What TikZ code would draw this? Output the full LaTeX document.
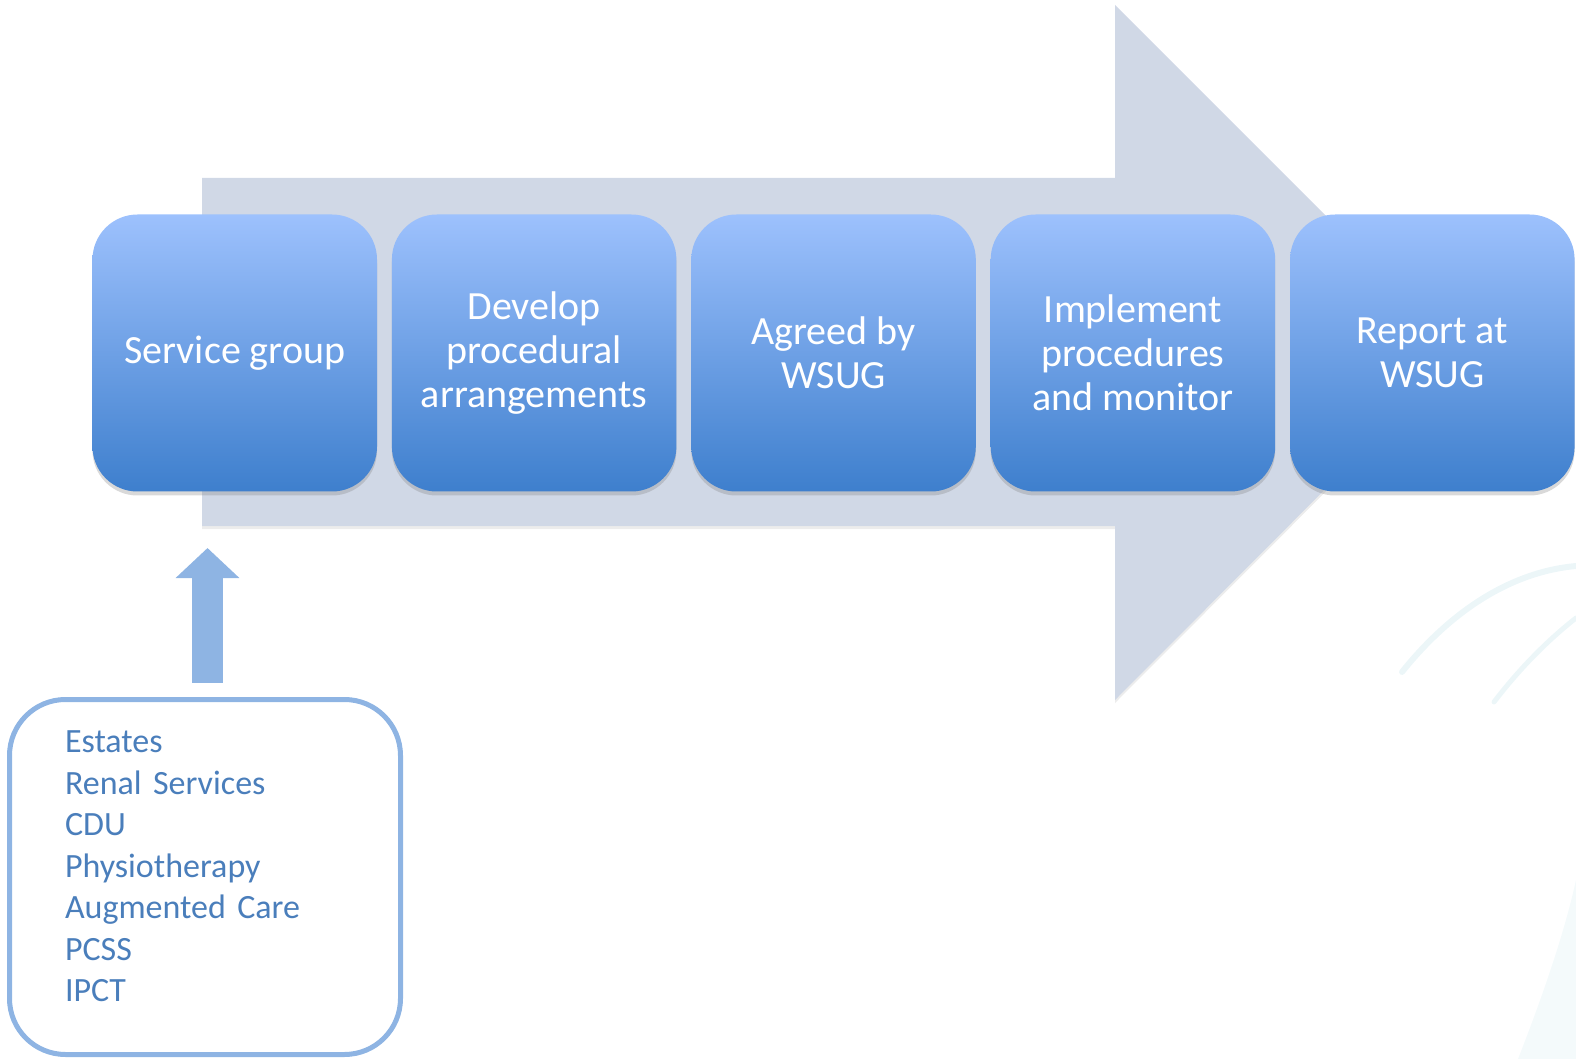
\documentclass[tikz,border=0pt]{standalone}
\usepackage{fontspec}
\setmainfont{Carlito}
\usetikzlibrary{arrows.meta,shadows}
\definecolor{grigio}{RGB}{208,216,230}
\definecolor{celeste}{RGB}{157,193,253}
\definecolor{azzurro}{RGB}{121,164,234}
\definecolor{blu}{RGB}{62,127,205}
\definecolor{bordo}{RGB}{142,180,227}
\definecolor{testo}{RGB}{74,126,187}
\definecolor{traccia}{RGB}{224,240,244}
\tikzstyle{flusso}=[
    fase/.style={rectangle, rounded corners=22.5pt, minimum width=142.25pt,
        minimum height=138.5pt, top color=celeste, middle color=azzurro,
        bottom color=blu, text=white, align=center,
        font={\fontsize{20}{22}\selectfont},
        drop shadow={shadow xshift=0pt, shadow yshift=-2pt, opacity=.3}},
    freccia/.style={fill=grigio,
        drop shadow={shadow xshift=0pt, shadow yshift=-1.5pt, opacity=.15}},
    elenco/.style={rectangle, rounded corners=28pt, draw=bordo, line width=2.5pt,
        minimum width=195.5pt, minimum height=177.5pt, text=testo,
        align=left, text width=140pt, text height=0.5pt,
        font={\fontsize{17}{20.75}\selectfont}},
    su/.style={draw=bordo, line width=15.5pt, -{Triangle[width=31pt,length=15pt]}},
    sfondo/.style={traccia, line cap=round, opacity=.6},
]

\begin{document}
\begin{tikzpicture}[flusso, x=0.5pt, y=-0.5pt]
    \useasboundingbox (0,0) rectangle (1576,1059);

    % faint background swirl
    \draw[sfondo, line width=3pt] (1402,672) .. controls (1450,612) and (1510,572) .. (1576,566);
    \draw[sfondo, line width=2.5pt] (1494,702) .. controls (1520,668) and (1548,640) .. (1576,618);
    \fill[traccia, opacity=.35] (1518,1059) .. controls (1545,990) and (1565,930) .. (1576,880) -- (1576,1059) -- cycle;

    % big arrow
    \fill[freccia] (202,178) -- (1115,178) -- (1115,5) -- (1462,352)
        -- (1115,700) -- (1115,526) -- (202,526) -- cycle;

    % stages
    \foreach \n/\t [count=\i from 0] in {servizio/{Service group},
        sviluppo/{Develop\\procedural\\arrangements},
        accordo/{Agreed by\\WSUG},
        attuazione/{Implement\\procedures\\and monitor},
        rapporto/{Report at\\WSUG}}
        \node[fase] (\n) at (234.75+\i*299.4, 353) {\t};

    % groups
    \node[elenco] (gruppi) at (205,877)
        {Estates\\Renal Services\\CDU\\Physiotherapy\\Augmented Care\\PCSS\\IPCT};
    \coordinate (punta) at (207.5,548);
    \draw[su] ([xshift=1.25pt,yshift=7.25pt]gruppi.north) -- (punta);

\end{tikzpicture}
\end{document}
